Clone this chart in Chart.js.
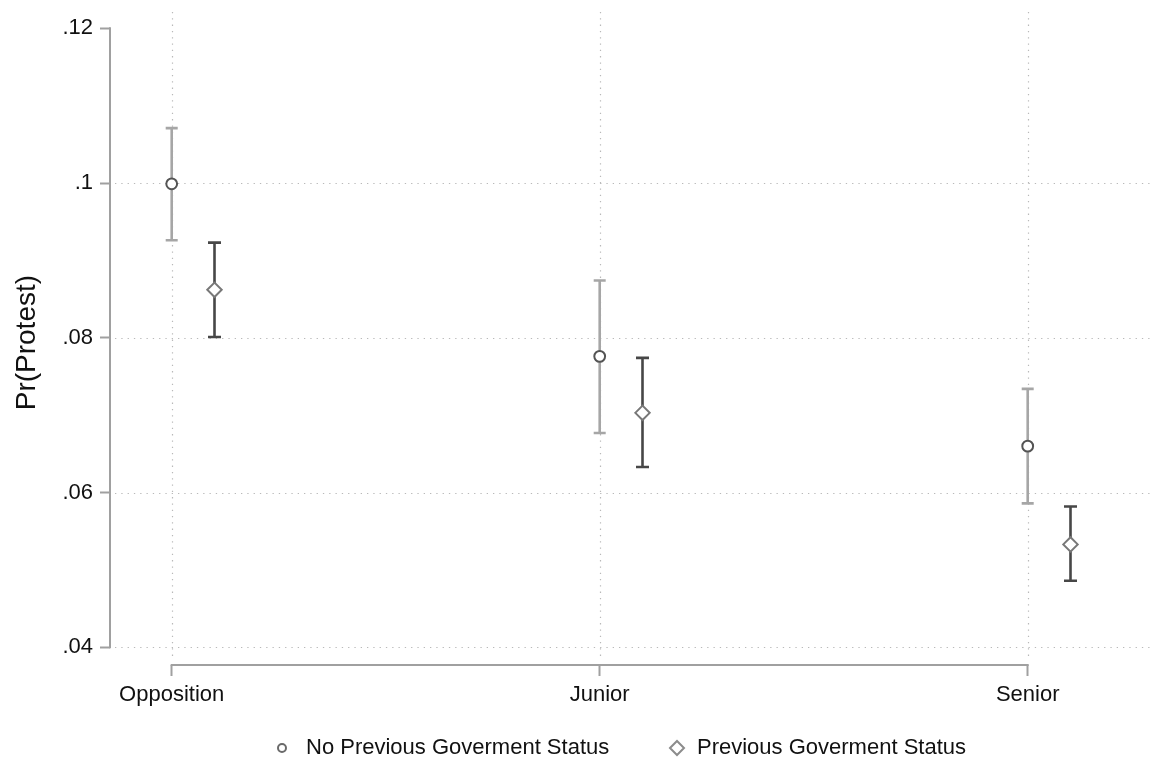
<!DOCTYPE html>
<html>
<head>
<meta charset="utf-8">
<title>Pr(Protest) by government status</title>
<script src="https://cdn.jsdelivr.net/npm/chart.js@4.4.1/dist/chart.umd.min.js"></script>
<style>
  html, body { margin: 0; padding: 0; background: #ffffff; }
  #wrap { width: 1151px; height: 766px; }
</style>
</head>
<body>
<div id="wrap"><canvas id="chart" width="1151" height="766"></canvas></div>
<script>
// Categories and series
const categories = ['Opposition', 'Junior', 'Senior'];
const seriesNames = ['No Previous Goverment Status', 'Previous Goverment Status'];

// Point estimates and confidence bounds
const noPrevEstimate = [0.0999, 0.0776, 0.0660];
const noPrevLower    = [0.0926, 0.0677, 0.0586];
const noPrevUpper    = [0.1071, 0.0874, 0.0734];

const prevEstimate   = [0.0862, 0.0703, 0.0533];
const prevLower      = [0.0801, 0.0633, 0.0486];
const prevUpper      = [0.0923, 0.0774, 0.0582];

// Axis ticks
const yTicks      = [0.04, 0.06, 0.08, 0.10, 0.12];
const yTickLabels = ['.04', '.06', '.08', '.1', '.12'];
const xTicks      = [1, 2, 3];

const FONT = '"Liberation Sans", Arial, Helvetica, sans-serif';
const seriesOffset = [0, 0.1];

// Plot frame margins (px)
const frame = { top: 12, yHighPx: 28.3, yLowGap: 17.7, xLowGap: 61.7, xHighGap: 123.3 };

const toPoints = (vals, off) => vals.map((v, i) => ({ x: xTicks[i] + off, y: v }));

const ciSeries = [
  { lower: noPrevLower, upper: noPrevUpper, color: '#a6a6a6', offset: seriesOffset[0], cap: 6 },
  { lower: prevLower,   upper: prevUpper,   color: '#474747', offset: seriesOffset[1], cap: 6.5 }
];

// Dotted grid, offset axis lines, confidence intervals and the legend
const stataLook = {
  id: 'stataLook',
  beforeDatasetsDraw(chart) {
    const { ctx, chartArea: a, scales: { x, y } } = chart;
    ctx.save();

    // dotted grid lines
    ctx.strokeStyle = '#b9b9b9';
    ctx.lineWidth = 1.2;
    ctx.setLineDash([1.3, 5]);
    yTicks.slice(0, -1).forEach(v => {
      const py = Math.round(y.getPixelForValue(v)) + 0.5;
      ctx.beginPath();
      ctx.moveTo(a.left + 5, py);
      ctx.lineTo(chart.width - 1, py);
      ctx.stroke();
    });
    xTicks.forEach(v => {
      const px = Math.round(x.getPixelForValue(v)) + 0.5;
      ctx.beginPath();
      ctx.moveTo(px, frame.top);
      ctx.lineTo(px, a.bottom - 6);
      ctx.stroke();
    });
    ctx.setLineDash([]);

    // axis lines spanning the tick range only
    ctx.strokeStyle = '#a0a0a0';
    ctx.lineWidth = 2;
    ctx.beginPath();
    ctx.moveTo(a.left, y.getPixelForValue(yTicks[0]) + 1);
    ctx.lineTo(a.left, y.getPixelForValue(yTicks[yTicks.length - 1]) - 1);
    ctx.stroke();
    ctx.beginPath();
    ctx.moveTo(x.getPixelForValue(xTicks[0]) - 1, a.bottom);
    ctx.lineTo(x.getPixelForValue(xTicks[xTicks.length - 1]) + 1, a.bottom);
    ctx.stroke();

    // confidence intervals with caps
    ctx.lineWidth = 2.6;
    ciSeries.forEach(s => {
      ctx.strokeStyle = s.color;
      s.lower.forEach((lo, i) => {
        const px = x.getPixelForValue(xTicks[i] + s.offset);
        const pLo = y.getPixelForValue(lo);
        const pHi = y.getPixelForValue(s.upper[i]);
        ctx.beginPath();
        ctx.moveTo(px, pLo);
        ctx.lineTo(px, pHi);
        ctx.moveTo(px - s.cap, pLo);
        ctx.lineTo(px + s.cap, pLo);
        ctx.moveTo(px - s.cap, pHi);
        ctx.lineTo(px + s.cap, pHi);
        ctx.stroke();
      });
    });
    ctx.restore();
  },
  afterDraw(chart) {
    const { ctx } = chart;
    const cy = 748;
    ctx.save();
    ctx.lineWidth = 2;
    // circle key
    ctx.strokeStyle = '#6a6a6a';
    ctx.beginPath();
    ctx.arc(282, cy, 4, 0, Math.PI * 2);
    ctx.stroke();
    // diamond key
    ctx.strokeStyle = '#8c8c8c';
    ctx.beginPath();
    ctx.moveTo(677 - 7, cy);
    ctx.lineTo(677, cy - 7);
    ctx.lineTo(677 + 7, cy);
    ctx.lineTo(677, cy + 7);
    ctx.closePath();
    ctx.stroke();
    ctx.fillStyle = '#111111';
    ctx.font = '22px ' + FONT;
    ctx.textBaseline = 'middle';
    ctx.textAlign = 'left';
    ctx.fillText(seriesNames[0], 306, cy);
    ctx.fillText(seriesNames[1], 697, cy);
    ctx.restore();
  }
};

const chart = new Chart(document.getElementById('chart'), {
  type: 'scatter',
  data: {
    datasets: [
      {
        label: seriesNames[0],
        data: toPoints(noPrevEstimate, seriesOffset[0]),
        pointStyle: 'circle',
        pointRadius: 5.4,
        borderWidth: 2,
        borderColor: '#545454',
        backgroundColor: '#ffffff'
      },
      {
        label: seriesNames[1],
        data: toPoints(prevEstimate, seriesOffset[1]),
        pointStyle: 'rectRot',
        pointRadius: 7.2,
        borderWidth: 2,
        borderColor: '#787878',
        backgroundColor: '#ffffff'
      }
    ]
  },
  options: {
    responsive: false,
    animation: false,
    events: [],
    layout: { padding: { top: frame.top, left: 0, right: 0, bottom: 0 } },
    plugins: {
      legend: { display: false },
      tooltip: { enabled: false }
    },
    scales: {
      x: {
        type: 'linear',
        min: 0.8558,
        max: 3.288,
        afterBuildTicks: s => { s.ticks = xTicks.map(v => ({ value: v })); },
        afterFit: s => { s.height = 101; },
        border: { display: false },
        grid: { drawOnChartArea: false, drawTicks: true, tickLength: 11, tickColor: '#a0a0a0', tickWidth: 2 },
        ticks: {
          autoSkip: false,
          maxRotation: 0,
          padding: 6,
          color: '#111111',
          font: { family: FONT, size: 22 },
          callback: v => categories[Math.round(v) - 1]
        }
      },
      y: {
        type: 'linear',
        min: 0.03771,
        max: 0.12105,
        afterBuildTicks: s => { s.ticks = yTicks.map(v => ({ value: v })); },
        afterFit: s => { s.width = 110; },
        border: { display: false },
        grid: { drawOnChartArea: false, drawTicks: true, tickLength: 10, tickColor: '#a0a0a0', tickWidth: 2 },
        ticks: {
          padding: 7,
          color: '#111111',
          font: { family: FONT, size: 22 },
          callback: v => yTickLabels[yTicks.findIndex(t => Math.abs(t - v) < 1e-9)]
        },
        title: {
          display: true,
          text: 'Pr(Protest)',
          color: '#111111',
          font: { family: FONT, size: 28 },
          padding: { top: 10, bottom: 0 }
        }
      }
    }
  }
  ,
  plugins: [stataLook]
});

// Fit the value ranges to the plot frame once the layout is known
function fitRanges() {
  const a = chart.chartArea;
  const yLo = yTicks[0], yHi = yTicks[yTicks.length - 1];
  const yLowPx = a.bottom - frame.yLowGap;
  const yPer = (yHi - yLo) / (yLowPx - frame.yHighPx);
  chart.options.scales.y.min = yLo - frame.yLowGap * yPer;
  chart.options.scales.y.max = yHi + (frame.yHighPx - a.top) * yPer;

  const xLo = xTicks[0], xHi = xTicks[xTicks.length - 1];
  const xLowPx = a.left + frame.xLowGap;
  const xHighPx = chart.width - frame.xHighGap;
  const xPer = (xHi - xLo) / (xHighPx - xLowPx);
  chart.options.scales.x.min = xLo - frame.xLowGap * xPer;
  chart.options.scales.x.max = xHi + (a.right - xHighPx) * xPer;
  chart.update();
}
fitRanges();
fitRanges();
</script>
</body>
</html>
